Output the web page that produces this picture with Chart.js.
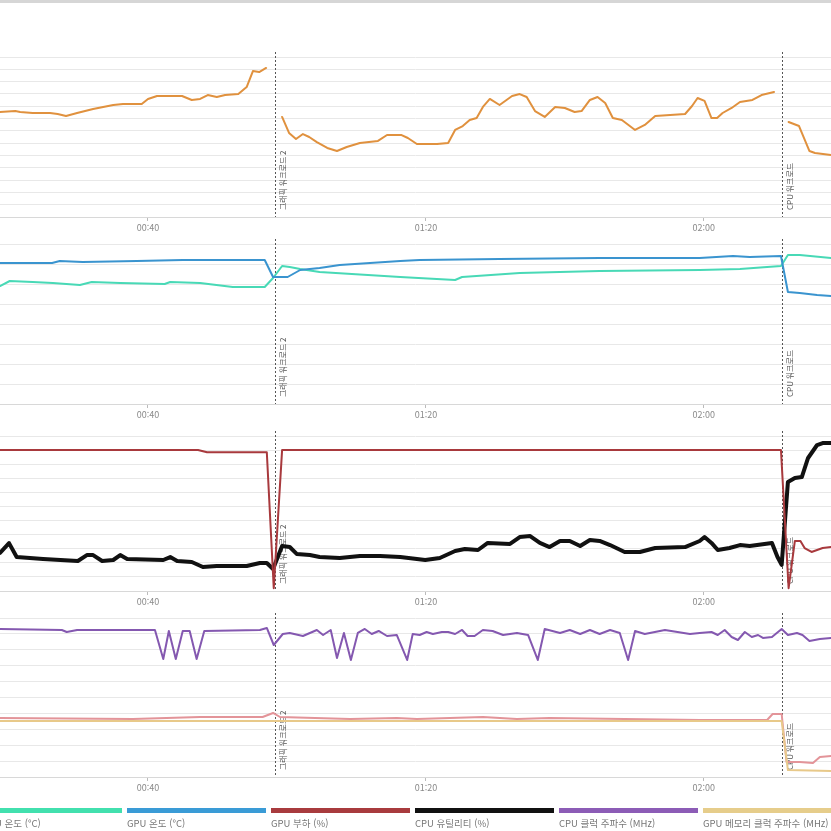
<!DOCTYPE html>
<html lang="ko">
<head>
<meta charset="utf-8">
<script src="https://cdn.jsdelivr.net/npm/chart.js@4.4.1/dist/chart.umd.min.js"></script>
<style>
  html, body { margin: 0; padding: 0; background: #fff; }
  body { width: 831px; height: 831px; position: relative; overflow: hidden;
         font-family: "Noto Sans CJK KR", "Noto Sans", sans-serif; }
  .topbar { position: absolute; left: 0; top: 0; width: 831px; height: 3px; background: #d6d6d6; }
  canvas { position: absolute; left: 0; }
  #legend { position: absolute; left: 0; top: 808px; width: 831px; height: 23px; }
  .item { position: absolute; top: 0; width: 139px; }
  .item .bar { height: 5px; }
  .item .txt { margin-top: 4px; font-size: 9.5px; line-height: 12px; color: #777; white-space: nowrap; }
</style>
</head>
<body>
<div class="topbar"></div>
<canvas id="c1" width="831" height="192" style="top:45px"></canvas>
<canvas id="c2" width="831" height="192" style="top:232px"></canvas>
<canvas id="c3" width="831" height="187" style="top:424px"></canvas>
<canvas id="c4" width="831" height="191" style="top:606px"></canvas>
<div id="legend"></div>
<script>
// time axis in minutes
var xMin = 18.7, xMax = 138.3;
var xTickValues = [40, 80, 120];
var xTickLabels = ['00:40', '01:20', '02:00'];

// session markers
var markerTimes = [58.3, 131.2];
var markerLabels = ['그래픽 워크로드 2', 'CPU 워크로드'];

// panel 1 (orange) - [minute, value], null = gap between sessions
var orangeData = [[18.7,85.3],[20.9,86.1],[21.6,85.3],[23.4,84.5],[25.9,84.5],[27.0,83.7],[28.2,82.1],[29.8,84.5],
  [32.1,87.8],[35.0,91.0],[36.4,91.8],[39.1,91.8],[40.0,95.9],[41.3,98.3],[44.9,98.3],[46.3,95.1],[47.5,95.9],
  [48.6,99.1],[49.9,97.5],[51.1,99.1],[53.0,99.9],[54.2,105.6],[55.1,118.6],[56.0,117.8],[57.0,121.1],[58.2,null],
  [59.3,81.3],[60.3,68.3],[61.3,63.4],[62.3,67.4],[63.2,65.0],[64.3,60.9],[65.8,56.1],[67.2,53.6],[68.6,56.9],
  [70.5,60.1],[73.1,61.8],[74.4,66.6],[76.5,66.6],[77.4,64.2],[78.7,59.3],[81.6,59.3],[83.2,60.1],[84.2,70.7],
  [85.3,73.9],[86.3,78.8],[87.3,80.4],[88.2,89.4],[89.2,95.9],[90.6,91.0],[92.4,98.3],[93.5,99.9],[94.5,97.5],
  [95.7,86.1],[97.1,81.3],[98.6,89.4],[100.0,88.6],[101.4,85.3],[102.4,86.1],[103.6,95.1],[104.7,97.5],[105.8,92.6],
  [106.9,80.4],[108.2,78.8],[110.1,70.7],[111.5,74.8],[113.0,82.1],[117.3,83.7],[118.3,90.2],[119.1,96.7],[120.1,94.3],
  [121.1,80.4],[121.9,80.4],[122.7,84.5],[124.0,88.6],[125.2,93.4],[127.0,95.1],[128.3,99.1],[130.1,101.6],[131.3,null],
  [132.2,77.2],[133.7,73.9],[135.2,53.6],[136.0,52.0],[138.3,50.4]];

// panel 2 - temperatures (°C)
var cpuTempData = [[18.7,59],[20.1,61.5],[23.4,61],[26.3,60.5],[30.2,59.5],[31.9,61],[36.0,60.5],[42.4,60],[43.2,61],
  [47.5,60.5],[52.2,58.5],[56.8,58.5],[58.0,63],[59.3,69],[60.4,68.5],[61.9,67.5],[64.7,66],[76.3,63.5],[84.2,62],
  [85.2,63.5],[93.5,65.5],[105.0,66.5],[119.4,67],[125.2,67.5],[129.1,68.5],[131.1,69],[132.1,74.5],[133.8,74.5],[138.3,73]];
var gpuTempData = [[18.7,70.5],[26.2,70.5],[27.3,71.5],[30.6,71],[38.4,71.5],[45.0,72],[56.8,72],[58.0,63.5],[60.1,63.5],
  [61.9,67],[64.7,68],[67.6,69.5],[76.3,71.5],[79.1,72],[90.6,72.5],[105.0,73],[119.4,73],[124.2,74],[126.6,73.5],
  [131.1,74],[132.1,56],[133.8,55.5],[136.3,54.5],[138.3,54]];

// panel 3 - load / utility (%)
var gpuLoadData = [[18.7,100],[47.2,100],[48.5,98.5],[57.1,98.5],[58.1,2],[59.3,100],[131.1,100],[132.2,2],[133.1,35.5],
  [133.9,35.5],[134.5,30.5],[135.5,27.7],[137.1,30.5],[138.3,31.2]];
var cpuUtilData = [[18.7,27],[20.0,34],[21.1,24.1],[24.9,22.7],[29.9,21.3],[31.2,25.5],[32.1,25.5],[33.4,21.3],[35.0,22],
  [36.0,25.5],[37.0,22.7],[42.2,22],[43.2,24.1],[44.2,21.3],[46.3,20.6],[47.9,17],[49.9,17.7],[54.2,17.7],[56.1,19.9],
  [57.1,19.9],[58.0,15.6],[59.3,31.9],[60.4,31.2],[61.4,26.3],[63.3,25.5],[64.7,24.1],[67.6,23.4],[70.5,24.8],[73.4,24.8],
  [76.3,24.1],[79.9,22],[82.0,23.4],[84.2,28.4],[85.6,29.8],[87.5,29.1],[88.9,34.1],[92.1,33.4],[93.5,38.3],[95.0,39],
  [96.4,34.1],[97.8,31.2],[99.3,35.5],[100.7,35.5],[102.2,31.9],[103.6,36.2],[105.0,35.5],[106.5,32.6],[108.6,27.7],
  [110.8,27.7],[113.0,30.5],[117.3,31.2],[119.4,35.5],[120.1,38.3],[121.1,34.1],[122.0,29.1],[123.7,30.5],[125.2,32.6],
  [126.6,31.9],[129.8,34.1],[130.6,24.1],[131.2,18.5],[132.1,77.4],[133.1,80.2],[134.1,80.9],[135.0,94.4],[136.3,103.6],
  [137.1,105],[138.3,105]];

// panel 4 - clocks (MHz)
var cpuClockData = [[18.7,4655],[27.6,4623],[28.3,4560],[29.8,4623],[41.0,4623],[42.2,3711],[43.0,4592],[44.0,3711],
  [45.0,4592],[46.0,4592],[47.0,3711],[48.1,4592],[56.1,4623],[57.1,4686],[58.1,4151],[59.4,4497],[60.4,4529],[62.3,4434],
  [64.3,4623],[65.2,4466],[66.3,4623],[67.2,3743],[68.2,4529],[69.2,3680],[70.2,4529],[71.2,4655],[72.2,4497],[73.2,4592],
  [74.4,4434],[75.8,4466],[77.3,3680],[78.1,4497],[79.1,4466],[80.1,4560],[81.0,4497],[82.3,4560],[83.2,4560],[84.2,4497],
  [85.2,4623],[86.0,4434],[87.0,4434],[88.2,4623],[89.6,4592],[91.1,4466],[93.1,4529],[94.7,4466],[96.1,3680],[97.1,4655],
  [99.3,4529],[100.7,4623],[102.2,4497],[103.6,4623],[105.0,4497],[106.5,4623],[107.9,4529],[109.1,3680],[110.1,4592],
  [111.5,4497],[114.4,4623],[118.0,4497],[119.4,4529],[121.1,4560],[122.0,4466],[123.0,4623],[124.0,4403],[124.9,4309],
  [125.9,4560],[126.9,4403],[127.8,4466],[128.5,4372],[129.8,4403],[131.2,4655],[132.1,4466],[133.4,4529],[134.2,4466],
  [135.2,4277],[136.7,4340],[138.3,4372]];
var gpuClockData = [[18.7,1856],[37.8,1824],[47.5,1887],[56.5,1887],[58.0,2013],[59.0,1887],[69.1,1824],[75.8,1856],
  [78.7,1824],[88.2,1887],[93.1,1824],[97.8,1856],[119.4,1793],[129.1,1793],[129.9,1981],[131.2,1981],[131.9,472],
  [133.8,472],[135.7,440],[136.7,629],[138.3,660]];
var gpuMemClockData = [[18.7,1761],[131.2,1761],[132.1,220],[138.3,189]];

// legend (visible part)
var legendNames = ['CPU 온도 (°C)', 'GPU 온도 (°C)', 'GPU 부하 (%)', 'CPU 유틸리티 (%)', 'CPU 클럭 주파수 (MHz)', 'GPU 메모리 클럭 주파수 (MHz)'];
var legendColors = ['#42e0ae', '#3a9bd6', '#a83b3e', '#111111', '#8c5cb6', '#e6cd8b'];

function pts(arr) {
    return arr.map(function (p) { return { x: p[0], y: p[1] }; });
}

var markerPlugin = {
    id: 'markers',
    beforeDatasetsDraw: function (chart) {
        var ctx = chart.ctx, area = chart.chartArea, xs = chart.scales.x;
        ctx.save();
        markerTimes.forEach(function (t, i) {
            var x = Math.round(xs.getPixelForValue(t)) + 0.5;
            ctx.strokeStyle = '#555';
            ctx.lineWidth = 1;
            ctx.setLineDash([2, 2]);
            ctx.beginPath();
            ctx.moveTo(x, area.top - 5);
            ctx.lineTo(x, area.bottom);
            ctx.stroke();
            ctx.setLineDash([]);
            // rotated label, reading bottom to top
            ctx.save();
            ctx.translate(x + 3, area.bottom - 7);
            ctx.rotate(-Math.PI / 2);
            ctx.fillStyle = '#555';
            ctx.font = '8px "Noto Sans CJK KR", sans-serif';
            ctx.textAlign = 'left';
            ctx.textBaseline = 'top';
            ctx.fillText(markerLabels[i], 0, 0);
            ctx.restore();
        });
        ctx.restore();
    }
};

function makePanel(id, datasets, yMax, yStep) {
    return new Chart(document.getElementById(id).getContext('2d'), {
        type: 'line',
        data: { datasets: datasets },
        options: {
            responsive: false,
            animation: false,
            layout: { padding: { top: 12, left: 0, right: 0, bottom: 0 } },
            elements: { point: { radius: 0 }, line: { tension: 0, borderJoinStyle: 'round', borderCapStyle: 'round' } },
            spanGaps: false,
            plugins: { legend: { display: false }, tooltip: { enabled: false } },
            scales: {
                x: {
                    type: 'linear',
                    min: xMin,
                    max: xMax,
                    afterBuildTicks: function (s) { s.ticks = xTickValues.map(function (v) { return { value: v }; }); },
                    afterFit: function (s) { s.height = 20; },
                    grid: { drawOnChartArea: false, drawTicks: true, tickLength: 4, color: '#bbb' },
                    border: { color: '#d8d8d8' },
                    ticks: {
                        padding: 1,
                        color: '#8a8a8a',
                        font: { size: 9, family: '"Noto Sans CJK KR", sans-serif' },
                        maxRotation: 0,
                        callback: function (v) { return xTickLabels[xTickValues.indexOf(v)]; }
                    }
                },
                y: {
                    min: 0,
                    max: yMax,
                    afterFit: function (s) { s.width = 0; },
                    ticks: { display: false, stepSize: yStep },
                    grid: { color: '#e8e8e8', drawTicks: false },
                    border: { display: false }
                }
            }
        },
        plugins: [markerPlugin]
    });
}

function line(label, data, color, width) {
    return { label: label, data: pts(data), borderColor: color, backgroundColor: color, borderWidth: width, fill: false };
}

makePanel('c1', [line('CPU 패키지 전력 (W)', orangeData, '#e0913e', 2)], 130, 10);
makePanel('c2', [
    line('GPU 온도 (°C)', gpuTempData, '#3a94cf', 2),
    line('CPU 온도 (°C)', cpuTempData, '#48d9b6', 2)
], 80, 10);
makePanel('c3', [
    line('GPU 부하 (%)', gpuLoadData, '#a8393d', 2),
    line('CPU 유틸리티 (%)', cpuUtilData, '#111111', 4)
], 110, 10);
makePanel('c4', [
    line('GPU 메모리 클럭 주파수 (MHz)', gpuMemClockData, '#e8c98a', 2),
    line('GPU 클럭 주파수 (MHz)', gpuClockData, '#e39499', 2),
    line('CPU 클럭 주파수 (MHz)', cpuClockData, '#8458b0', 2)
], 5000, 500);

// legend row
var legend = document.getElementById('legend');
legendNames.forEach(function (name, i) {
    var item = document.createElement('div');
    item.className = 'item';
    item.style.left = (-17 + i * 144) + 'px';
    var bar = document.createElement('div');
    bar.className = 'bar';
    bar.style.background = legendColors[i];
    var txt = document.createElement('div');
    txt.className = 'txt';
    txt.textContent = name;
    item.appendChild(bar);
    item.appendChild(txt);
    legend.appendChild(item);
});
</script>
</body>
</html>
